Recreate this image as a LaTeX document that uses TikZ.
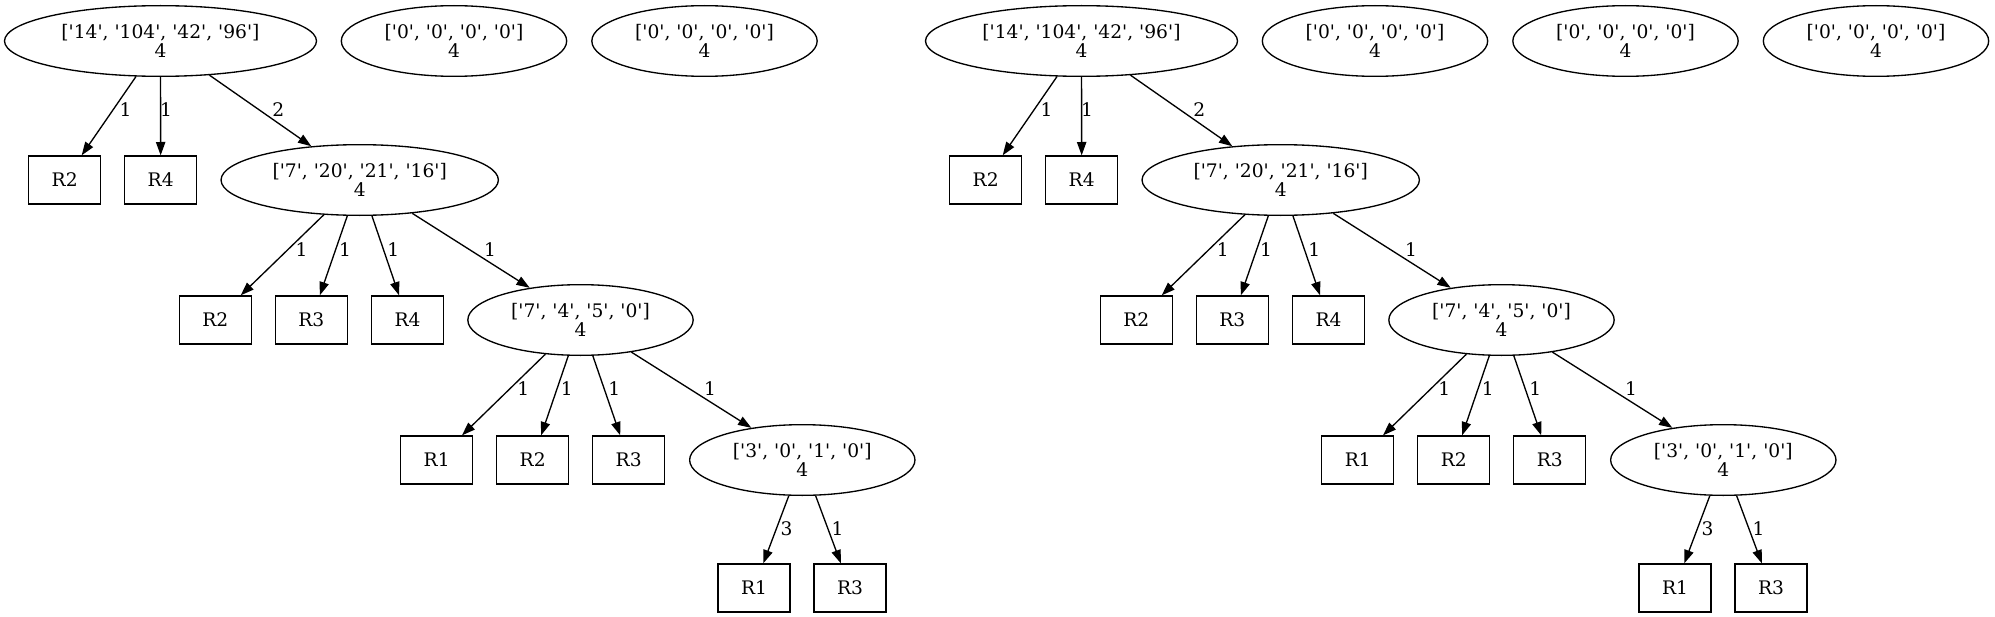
\documentclass[tikz,border=0pt]{standalone}
\usepackage{fontspec}
\setmainfont{DejaVu Serif}[Ligatures = TeXOff]
\usetikzlibrary{shapes.geometric}
\usetikzlibrary{arrows.meta}

\tikzset{
  lst/.style = {ellipse, draw, inner sep = 0pt, minimum height = 53pt,
    align = center},
  res/.style = {rectangle, draw, inner sep = 0pt, minimum width = 54pt,
    minimum height = 36pt},
  arc/.style = {-{Triangle[length = 10pt, width = 7pt]}},
  wt/.style = {inner sep = 0pt}
}

\begin{document}
\begin{tikzpicture}[x = 0.75pt, y = -0.75pt, line width = 1pt,
  font = \fontsize{14pt}{14.5pt}\selectfont]
  \useasboundingbox (0, 0) rectangle (1995, 617);

  % empty counters on the top rank
  \foreach \n/\zx in {1/454, 2/704.5, 3/1375, 4/1625.5, 5/1876}{
    \node[lst, minimum width = 169pt] (z\n) at (\zx, 41) {['0', '0', '0', '0']\\4};
  }

  % the same tree twice
  \foreach \side/\dx in {l/0, r/921}{
    \begin{scope}[shift = {(\dx, 0)}]
      \node[lst, minimum width = 234pt] (n1\side) at (160.5, 41)
      {['14', '104', '42', '96']\\4};
      \node[lst, minimum width = 208pt] (n2\side) at (359.7, 180)
      {['7', '20', '21', '16']\\4};
      \node[lst, minimum width = 169pt] (n3\side) at (580.5, 320)
      {['7', '4', '5', '0']\\4};
      \node[lst, minimum width = 169pt] (n4\side) at (802.3, 460)
      {['3', '0', '1', '0']\\4};

      \foreach \p/\k/\bx/\by in {n1/2/64.7/180, n1/4/160.7/180,
        n2/2/215.3/320, n2/3/311.3/320, n2/4/407.5/320,
        n3/1/436.7/460, n3/2/532.7/460, n3/3/628.7/460,
        n4/1/754/588, n4/3/850/588}{
        \node[res] (\p r\k\side) at (\bx, \by) {R\k};
      }

      \foreach \p/\c/\w/\sx/\sy in {n1/n1r2/1/16.6/-6, n1/n1r4/1/5.4/-6.2,
        n1/n2/2/17.9/-1.4, n2/n2r2/1/19.4/-5, n2/n2r3/1/11.4/-5.6,
        n2/n2r4/1/7.8/-5.6, n2/n3/1/19/-1.2, n3/n3r1/1/19.6/-6.1,
        n3/n3r2/1/12/-6.9, n3/n3r3/1/7.8/-6.9, n3/n4/1/18.6/-1.3,
        n4/n4r1/3/10.6/-0.8, n4/n4r3/1/9.4/-0.8}{
        \draw[arc] (\p\side) -- node[wt, shift = {(\sx, \sy)}] {\w} (\c\side);
      }
    \end{scope}
  }
\end{tikzpicture}
\end{document}
